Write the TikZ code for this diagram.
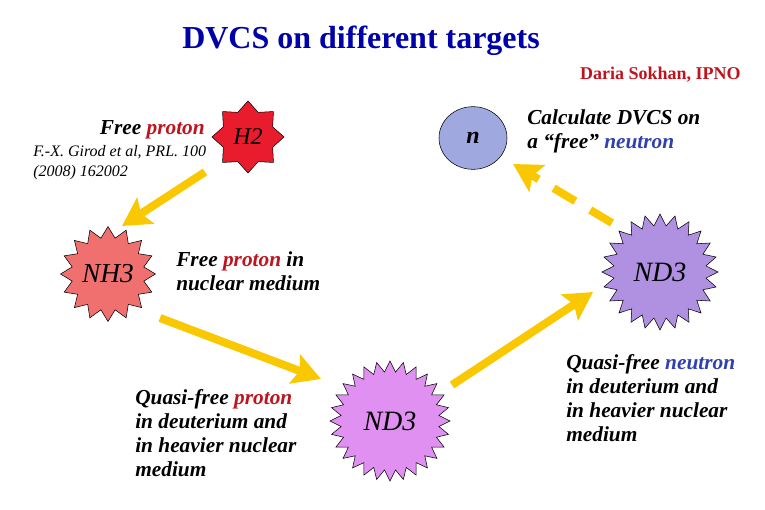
\documentclass[tikz,border=0pt]{standalone}
\usepackage{fontspec}
\setmainfont{Liberation Serif}
\usetikzlibrary{shapes.geometric,arrows.meta}
\definecolor{titleblue}{RGB}{0,0,168}
\definecolor{protonred}{RGB}{190,20,30}
\definecolor{neutronblue}{RGB}{48,64,176}
\definecolor{arrowgold}{RGB}{250,200,0}
\definecolor{hred}{RGB}{232,28,44}
\definecolor{nhpink}{RGB}{240,112,112}
\definecolor{ndorchid}{RGB}{224,144,240}
\definecolor{ndlav}{RGB}{176,144,224}
\definecolor{nblue}{RGB}{160,168,224}
\newcommand{\prot}[1]{\textcolor{protonred}{#1}}
\newcommand{\neut}[1]{\textcolor{neutronblue}{#1}}

\begin{document}
\begin{tikzpicture}[x=0.75pt, y=-0.75pt, >={Stealth[length=21pt,width=23pt,inset=4pt]},
  target/.style={star, draw=black, thin, inner sep=0pt, font=\itshape\fontsize{21}{21}\selectfont},
  body/.style={align=left, anchor=base west, inner sep=0pt, font=\bfseries\itshape\fontsize{16}{18}\selectfont},
  flow/.style={->, draw=arrowgold, line width=6pt}]
\useasboundingbox (0,0) rectangle (765,510);

\node[anchor=base west, inner sep=0pt, text=titleblue, font=\bfseries\fontsize{24}{28}\selectfont] (title) at (182,49) {DVCS on different targets};
\node[anchor=base east, inner sep=0pt, text=protonred, font=\bfseries\fontsize{13.5}{16}\selectfont] (author) at (741,80) {Daria Sokhan, IPNO};

% targets
\node[target, fill=hred, star points=8, star point ratio=1.35, minimum size=54pt, font=\itshape\fontsize{18}{18}\selectfont] (h2) at (248,137) {H2};
\node[ellipse, draw=black, thin, fill=nblue, minimum width=51pt, minimum height=47pt, font=\bfseries\itshape\fontsize{18}{18}\selectfont] (nfree) at (473,138) {n};
\node[target, fill=nhpink, star points=16, star point ratio=1.3, minimum size=67pt, font=\itshape\fontsize{20.5}{20.5}\selectfont] (nh3) at (108,274) {NH3};
\node[target, fill=ndorchid, star points=28, star point ratio=1.22, minimum size=90pt] (nd3a) at (390,421) {ND3};
\node[target, fill=ndlav, star points=24, star point ratio=1.25, minimum size=87pt] (nd3b) at (660,272) {ND3};

% labels (base = last line)
\node[body, anchor=base east] (fp) at (205,135) {Free \prot{proton}};
\node[align=left, anchor=base west, inner sep=0pt, font=\itshape\fontsize{12}{14.3}\selectfont] (cite) at (33,176) {F.-X. Girod et al, PRL. 100\\(2008) 162002};
\node[body] (fpn) at (176,290) {Free \prot{proton} in\\nuclear medium};
\node[body] (qfp) at (135,476) {Quasi-free \prot{proton}\\in deuterium and\\in heavier nuclear\\medium};
\node[body] (qfn) at (566,441) {Quasi-free \neut{neutron}\\in deuterium and\\in heavier nuclear\\medium};
\node[body] (calc) at (527,149) {Calculate DVCS on\\a ``free'' \neut{neutron}};

% arrows
\coordinate (a1s) at (205,172); \coordinate (a1e) at (122,226);
\coordinate (a2s) at (160,318); \coordinate (a2e) at (321,379);
\coordinate (a3s) at (452,385); \coordinate (a3e) at (593,292);
\coordinate (a4s) at (612,223); \coordinate (a4e) at (513,164);
\draw[flow] (a1s) -- (a1e);
\draw[flow] (a2s) -- (a2e);
\draw[flow] (a3s) -- (a3e);
\draw[flow, dash pattern=on 19pt off 13pt] (a4s) -- (a4e);
\end{tikzpicture}
\end{document}
